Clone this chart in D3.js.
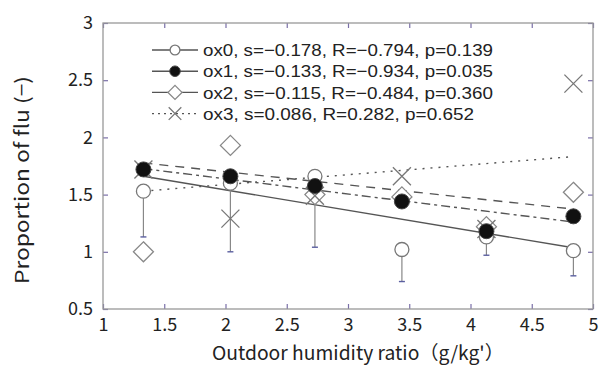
<!DOCTYPE html>
<html>
<head>
<meta charset="utf-8">
<script src="https://cdn.jsdelivr.net/npm/d3@7"></script>
<style>
  body { margin: 0; background: #fff; }
  svg text { font-family: "Noto Sans CJK JP", "Noto Sans", sans-serif; fill: #222; }
</style>
</head>
<body>
<svg id="chart" width="614" height="367"></svg>
<script>
// humidity classes (x) and the proportion of flu per series
const humidity = [1.33, 2.04, 2.73, 3.44, 4.13, 4.84];
const ox0 = [1.53, 1.60, 1.66, 1.02, 1.13, 1.01];
const ox0Low = [1.13, 1.00, 1.04, 0.74, 0.97, 0.79];
const ox1 = [1.72, 1.66, 1.575, 1.44, 1.18, 1.31];
const ox2 = [1.00, 1.93, 1.50, 1.48, 1.22, 1.52];
const ox3 = [1.72, 1.29, 1.49, 1.66, 1.20, 2.47];

// regression lines (slope from legend, intercept)
const fitSlope = [-0.178, -0.133, -0.115, 0.086];
const fitIntercept = [1.897, 1.904, 1.930, 1.416];

const legendLabels = [
  "ox0, s=\u22120.178, R=\u22120.794, p=0.139",
  "ox1, s=\u22120.133, R=\u22120.934, p=0.035",
  "ox2, s=\u22120.115, R=\u22120.484, p=0.360",
  "ox3, s=0.086, R=0.282, p=0.652"
];
const legendWidths = [290, 290, 290, 271];
const xTicks = [1, 1.5, 2, 2.5, 3, 3.5, 4, 4.5, 5];
const yTicks = [0.5, 1, 1.5, 2, 2.5, 3];

const series = [
  { name: "ox0", values: ox0, marker: "open", dash: null },
  { name: "ox1", values: ox1, marker: "filled", dash: "9,4,3,4" },
  { name: "ox2", values: ox2, marker: "diamond", dash: "9,7" },
  { name: "ox3", values: ox3, marker: "cross", dash: "2,6" }
];

const svg = d3.select("#chart");
const plotLeft = 103, plotRight = 593, plotTop = 23, plotBottom = 309;

const x = d3.scaleLinear().domain([1, 5]).range([plotLeft, plotRight]);
const y = d3.scaleLinear().domain([0.5, 3]).range([plotBottom, plotTop]);

const lineColor = "#555";

// axes with inward ticks on all four sides
svg.append("g")
  .attr("transform", `translate(0,${plotBottom})`)
  .call(d3.axisBottom(x).tickValues(xTicks).tickSize(-5).tickPadding(9).tickFormat(d3.format("")))
  .call(g => g.select(".domain").remove());
svg.append("g")
  .attr("transform", `translate(0,${plotTop})`)
  .call(d3.axisTop(x).tickValues(xTicks).tickSize(-5).tickFormat(""))
  .call(g => g.select(".domain").remove());
svg.append("g")
  .attr("transform", `translate(${plotLeft},0)`)
  .call(d3.axisLeft(y).tickValues(yTicks).tickSize(-5).tickPadding(10).tickFormat(d3.format("")))
  .call(g => g.select(".domain").remove());
svg.append("g")
  .attr("transform", `translate(${plotRight},0)`)
  .call(d3.axisRight(y).tickValues(yTicks).tickSize(-5).tickFormat(""))
  .call(g => g.select(".domain").remove());

svg.selectAll(".tick line").attr("stroke", "#7a6fa8").attr("stroke-width", 1.2);
svg.selectAll(".tick text").style("font-size", "18px").attr("fill", "#222");

// frame
svg.append("rect")
  .attr("x", plotLeft).attr("y", plotTop)
  .attr("width", plotRight - plotLeft).attr("height", plotBottom - plotTop)
  .attr("fill", "none").attr("stroke", "#999").attr("stroke-width", 1.3);

// regression lines
const plot = svg.append("g");
series.forEach((s, i) => {
  const x0 = humidity[0], x1 = humidity[humidity.length - 1];
  plot.append("line")
    .attr("x1", x(x0)).attr("y1", y(fitIntercept[i] + fitSlope[i] * x0))
    .attr("x2", x(x1)).attr("y2", y(fitIntercept[i] + fitSlope[i] * x1))
    .attr("stroke", lineColor)
    .attr("stroke-width", 1.4)
    .attr("stroke-dasharray", s.dash);
});

// lower error bars on ox0
humidity.forEach((h, i) => {
  plot.append("line")
    .attr("x1", x(h)).attr("x2", x(h))
    .attr("y1", y(ox0[i])).attr("y2", y(ox0Low[i]))
    .attr("stroke", "#888").attr("stroke-width", 1.2);
  plot.append("line")
    .attr("x1", x(h) - 3).attr("x2", x(h) + 3)
    .attr("y1", y(ox0Low[i])).attr("y2", y(ox0Low[i]))
    .attr("stroke", "#5b5fa0").attr("stroke-width", 1.4);
});

function drawMarker(g, type, cx, cy, size) {
  if (type === "open") {
    g.append("circle").attr("cx", cx).attr("cy", cy).attr("r", 7 * size)
      .attr("fill", "#fff").attr("stroke", "#777").attr("stroke-width", 1.3);
  } else if (type === "filled") {
    g.append("circle").attr("cx", cx).attr("cy", cy).attr("r", 7.5 * size)
      .attr("fill", "#111").attr("stroke", "#444").attr("stroke-width", 1);
  } else if (type === "diamond") {
    const r = 10 * size;
    g.append("path")
      .attr("d", `M${cx},${cy - r}L${cx + r},${cy}L${cx},${cy + r}L${cx - r},${cy}Z`)
      .attr("fill", "#fff").attr("stroke", "#888").attr("stroke-width", 1.3);
  } else {
    const r = 9 * size;
    g.append("path")
      .attr("d", `M${cx - r},${cy - r}L${cx + r},${cy + r}M${cx - r},${cy + r}L${cx + r},${cy - r}`)
      .attr("fill", "none").attr("stroke", "#777").attr("stroke-width", 1.3);
  }
}

// markers: diamonds and crosses first, circles on top
const markers = svg.append("g");
[2, 3, 0, 1].forEach(i => {
  series[i].values.forEach((v, j) => drawMarker(markers, series[i].marker, x(humidity[j]), y(v), 1));
});

// legend
const legend = svg.append("g");
series.forEach((s, i) => {
  const ly = 50 + i * 21.2;
  legend.append("line")
    .attr("x1", 152).attr("x2", 198).attr("y1", ly).attr("y2", ly)
    .attr("stroke", lineColor).attr("stroke-width", 1.4)
    .attr("stroke-dasharray", i === 3 ? "2,4" : null);
  drawMarker(legend, s.marker, 175, ly, 0.7);
  legend.append("text")
    .attr("x", 203).attr("y", ly)
    .attr("dy", "0.36em")
    .style("font-family", "'Liberation Sans', Arial, sans-serif")
    .style("font-size", "17px")
    .attr("textLength", legendWidths[i])
    .attr("lengthAdjust", "spacingAndGlyphs")
    .text(legendLabels[i]);
});

// axis titles
svg.append("text")
  .attr("x", 358).attr("y", 360)
  .attr("text-anchor", "middle")
  .style("font-size", "19px")
  .attr("textLength", 292)
  .attr("lengthAdjust", "spacingAndGlyphs")
  .text("Outdoor humidity ratio\uFF08g/kg'\uFF09");

svg.append("text")
  .attr("transform", "translate(29,180) rotate(-90)")
  .attr("text-anchor", "middle")
  .style("font-size", "19px")
  .attr("textLength", 208)
  .attr("lengthAdjust", "spacingAndGlyphs")
  .text("Proportion of flu (\u2212)");
</script>
</body>
</html>
